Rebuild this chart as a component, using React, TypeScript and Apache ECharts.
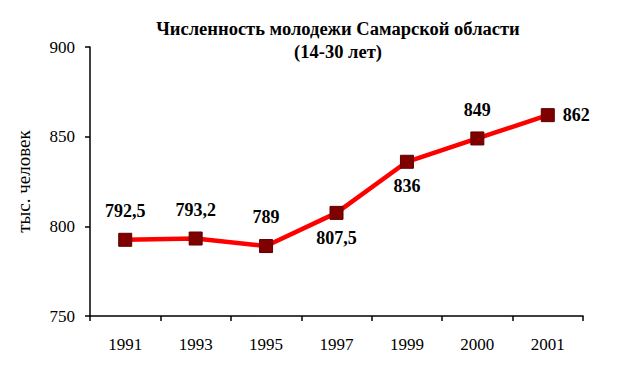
import React, { useEffect, useRef } from "react";
import * as echarts from "echarts";

const years = ["1991", "1993", "1995", "1997", "1999", "2000", "2001"];
const youth = [792.5, 793.2, 789, 807.5, 836, 849, 862];
const yTicks = [750, 800, 850, 900];

const FONT = "Liberation Serif";

export default function App() {
  const ref = useRef<HTMLDivElement>(null);
  useEffect(() => {
    if (!ref.current) return;
    const chart = echarts.init(ref.current, null, { renderer: "svg" });
    const placement: Record<number, any> = {
      0: { position: "top", distance: 13 },
      1: { position: "top", distance: 13 },
      2: { position: "top", distance: 13 },
      3: { position: "bottom", distance: 9 },
      4: { position: "bottom", distance: 8 },
      5: { position: "top", distance: 12 },
      6: { position: "right", distance: 8 },
    };
    chart.setOption({
      animation: false,
      backgroundColor: "#ffffff",
      textStyle: { fontFamily: FONT },
      title: {
        text: "Численность молодежи Самарской области\n(14-30 лет)",
        left: 333,
        top: 12,
        textAlign: "center",
        textStyle: {
          fontFamily: FONT,
          fontSize: 18.5,
          fontWeight: "bold",
          color: "#000",
          lineHeight: 23,
        },
      },
      grid: { left: 90, right: 40, top: 47, bottom: 61 },
      xAxis: {
        type: "category",
        data: years,
        boundaryGap: true,
        axisLine: { lineStyle: { color: "#000", width: 1.5 } },
        axisTick: { show: true, inside: false, length: 5, lineStyle: { color: "#000", width: 1.5 } },
        axisLabel: { fontFamily: FONT, fontWeight: "normal", fontSize: 17, color: "#000", margin: 20 },
      },
      yAxis: {
        type: "value",
        min: yTicks[0],
        max: yTicks[yTicks.length - 1],
        interval: 50,
        name: "тыс. человек",
        nameLocation: "middle",
        nameGap: 57,
        nameRotate: 90,
        nameTextStyle: { fontFamily: FONT, fontWeight: "normal", fontSize: 19, color: "#000" },
        axisLine: { show: true, lineStyle: { color: "#000", width: 1.5 } },
        axisTick: { show: true, inside: false, length: 5, lineStyle: { color: "#000", width: 1.5 } },
        splitLine: { show: false },
        axisLabel: { fontFamily: FONT, fontWeight: "normal", fontSize: 17, color: "#000", margin: 15 },
      },
      series: [
        {
          type: "line",
          data: youth.map((v, i) => ({
            value: v,
            label: placement[i],
          })),
          symbol: "rect",
          symbolSize: 13,
          itemStyle: { color: "#800000", borderColor: "#5a0000", borderWidth: 1 },
          lineStyle: { color: "#ff0000", width: 4.5 },
          label: {
            show: true,
            fontFamily: FONT,
            fontSize: 18,
            fontWeight: "bold",
            color: "#000",
            formatter: (p: any) => String(p.value).replace(".", ","),
          },
        },
      ],
    });
    return () => chart.dispose();
  }, []);
  return <div ref={ref} style={{ width: 623, height: 377, position: "absolute", left: 0, top: 0 }} />;
}
